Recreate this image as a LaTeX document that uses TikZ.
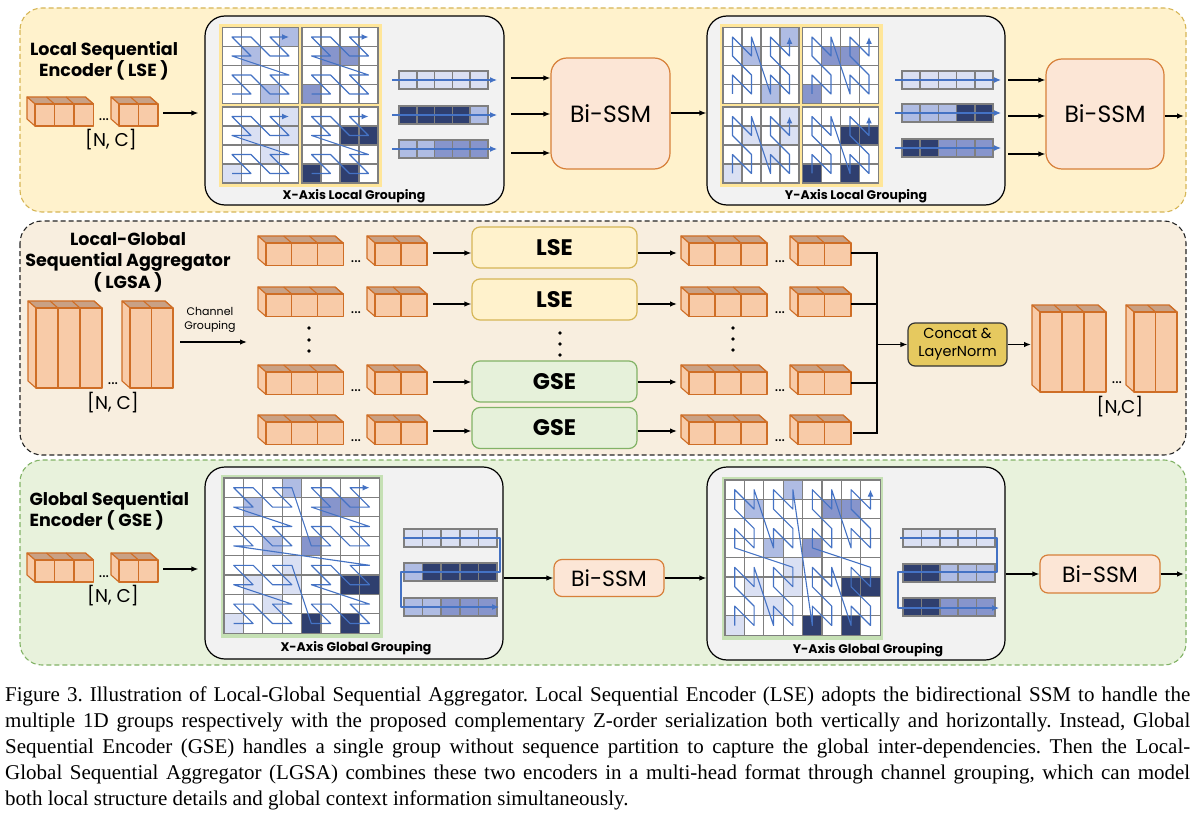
\documentclass[tikz,border=0pt]{standalone}
\usepackage{fontspec}
\setmainfont{Liberation Serif}
\newfontfamily\hf{Poppins}
\usetikzlibrary{arrows.meta,calc}
\frenchspacing
\definecolor{secYf}{HTML}{FFF2CC}
\definecolor{secYb}{HTML}{D6B656}
\definecolor{secMf}{HTML}{F8EEDF}
\definecolor{secGf}{HTML}{E8F2DC}
\definecolor{secGb}{HTML}{82B366}
\definecolor{grayf}{HTML}{F2F2F2}
\definecolor{ssmf}{HTML}{FCE6D6}
\definecolor{ssmb}{HTML}{D7803A}
\definecolor{lsef}{HTML}{FFF2CC}
\definecolor{gsef}{HTML}{E6F1DA}
\definecolor{catf}{HTML}{E6C95F}
\definecolor{tokF}{HTML}{F8CBA8}
\definecolor{tokT}{HTML}{C9A185}
\definecolor{tokB}{HTML}{CF6E26}
\definecolor{cV}{HTML}{DAE0F3}
\definecolor{cL}{HTML}{AFBCE3}
\definecolor{cM}{HTML}{8795CC}
\definecolor{cD}{HTML}{2F3F6F}
\definecolor{gline}{HTML}{7F7F7F}
\definecolor{yfr}{HTML}{FFE699}
\definecolor{gfr}{HTML}{C5E0B4}
\definecolor{zblue}{HTML}{4472C4}

\tikzset{
 arr/.style={draw=black, line width=1.3pt, -{Latex[length=7pt,width=5.5pt]}},
 bus/.style={draw=black, line width=1.6pt},
 zz/.style={draw=zblue, line width=1.1pt, -{Latex[length=7pt,width=6pt]}, line join=round},
 cellst/.style={draw=gline, line width=1.2pt, fill=white},
 barst/.style={draw=gline, line width=1.5pt},
 tokst/.style={draw=tokB, line width=1.1pt, line join=round},
 graybox/.style={draw=black, line width=1.2pt, fill=grayf, rounded corners=20pt},
 ssm/.style={draw=ssmb, line width=1.2pt, fill=ssmf, rounded corners=16pt, font=\hf\fontsize{23.5}{26}\selectfont},
 ssms/.style={draw=ssmb, line width=1.2pt, fill=ssmf, rounded corners=8pt, font=\hf\fontsize{22}{24}\selectfont},
 lsebox/.style={draw=secYb, line width=1.2pt, fill=lsef, rounded corners=8pt, minimum width=165pt, minimum height=41pt, font=\hf\bfseries\fontsize{22.5}{24}\selectfont},
 gsebox/.style={draw=secGb, line width=1.2pt, fill=gsef, rounded corners=8pt, minimum width=165pt, minimum height=41pt, font=\hf\bfseries\fontsize{22.5}{24}\selectfont},
 catbox/.style={draw=black!80, line width=1.2pt, fill=catf, rounded corners=7pt, minimum width=99pt, minimum height=43pt, align=center, font=\hf\fontsize{14.5}{18}\selectfont, inner sep=1pt},
 ttl/.style={font=\hf\bfseries\fontsize{17.5}{21.5}\selectfont},
 lab/.style={font=\hf\bfseries\fontsize{12.5}{14}\selectfont},
 nc/.style={font=\hf\fontsize{18.5}{22}\selectfont},
 dots/.style={font=\hf\fontsize{16}{16}\selectfont, inner sep=0pt},
 vdot/.style={fill=black, draw=none},
 secY/.style={draw=secYb, fill=secYf, line width=1.1pt, dash pattern=on 5pt off 3pt, rounded corners=22pt},
 secM/.style={draw=black!85, fill=secMf, line width=1.1pt, dash pattern=on 5pt off 3pt, rounded corners=22pt},
 secG/.style={draw=secGb, fill=secGf, line width=1.1pt, dash pattern=on 5pt off 3pt, rounded corners=22pt},
}

\def\tdx{8}
\def\tdy{7}
% token group: x of front-left, y of front-top, count, width, height
\newcommand\tokg[5]{%
 \pgfmathsetmacro\tkx{#1+#3*#4}%
 \filldraw[tokst, fill=tokT] (#1,#2) -- ++(-\tdx,-\tdy) -- ({\tkx-\tdx},{#2-\tdy}) -- (\tkx,#2) -- cycle;
 \filldraw[tokst, fill=tokF] (#1,#2) -- ++(-\tdx,-\tdy) -- ++(0,#5) -- (#1,{#2+#5}) -- cycle;
 \foreach \k in {1,...,#3}{%
   \filldraw[tokst, fill=tokF] ({#1+(\k-1)*#4},#2) rectangle ++(#4,#5);
   \draw[tokst] ({#1+\k*#4},#2) -- ++(-\tdx,-\tdy);}%
}
% 8x8 grid with shaded cells: x0, y0, cell, gap between 4x4 blocks
\newcommand\gridpanel[4]{%
 \foreach \cx in {0,...,7}{\foreach \cy in {0,...,7}{%
   \filldraw[cellst] ({#1+\cx*#3+(\cx>3)*#4},{#2+\cy*#3+(\cy>3)*#4}) rectangle ++(#3,#3);}}%
 \foreach \cx/\cy/\cc in {3/0/cL,1/1/cL,2/3/cL,5/1/cM,6/1/cM,4/3/cM,3/4/cV,1/5/cV,3/5/cV,2/6/cV,0/7/cV,6/5/cD,7/5/cD,4/7/cD,6/7/cD}{%
   \filldraw[cellst, fill=\cc] ({#1+\cx*#3+(\cx>3)*#4},{#2+\cy*#3+(\cy>3)*#4}) rectangle ++(#3,#3);}%
}
% Z-order path: x0, y0, cell, last index, col expr, row expr
\newcommand\zzpath[6]{%
 \begingroup
 \def\i{0}%
 \pgfmathsetmacro\zca{#5}\pgfmathsetmacro\zra{#6}%
 \draw[zz] ({#1+(\zca+0.5)*#3},{#2+(\zra+0.5)*#3})
   \foreach \i [evaluate=\i as \cc using {#5}, evaluate=\i as \rr using {#6}] in {1,...,#4} {-- ({#1+(\cc+0.5)*#3},{#2+(\rr+0.5)*#3})};
 \endgroup}
\newcommand\zxl[2]{\zzpath{#1}{#2}{19}{15}{mod(\i,2)+2*mod(floor(\i/4),2)}{3-mod(floor(\i/2),2)-2*mod(floor(\i/8),2)}}
\newcommand\zyl[2]{\zzpath{#1}{#2}{19}{15}{mod(floor(\i/2),2)+2*mod(floor(\i/8),2)}{3-mod(\i,2)-2*mod(floor(\i/4),2)}}
% sequence bar: x, y, cell width, colours
\newcommand\seqbar[4]{%
 \foreach \cc [count=\k from 0] in {#4}{%
   \filldraw[barst, fill=\cc] ({#1+\k*#3},#2) rectangle ++(#3,18);}%
}

\begin{document}
\begin{tikzpicture}[x=1pt,y=-1pt]
\fill[white] (0,0) rectangle (1194,813);
\useasboundingbox (0,0) rectangle (1194,813);

% ---------------- sections
\draw[secY] (20,8) rectangle (1186,212);
\draw[secM] (20,221) rectangle (1186,455);
\draw[secG] (20,460) rectangle (1186,665);

% ================= TOP: LSE
\node[ttl, align=center] (tLSE) at (104,61) {Local Sequential\\Encoder ( LSE )};
\tokg{35}{104}{3}{19.5}{22}
\tokg{119}{104}{2}{19.5}{22}
\node[dots, anchor=base] at (104,121) {...};
\node[nc] (ncA) at (111,140) {[N, C]};
\coordinate (tA) at (163,113);

\node[graybox, minimum width=299pt, minimum height=189pt] (gxl) at (354.5,110.5) {};
\node[graybox, minimum width=298pt, minimum height=189pt] (gyl) at (856,110.5) {};
\draw[arr, shorten >=6pt] (tA) -- (tA -| gxl.west);

% X local grid
\fill[yfr] (219,24) rectangle (382,187);
\gridpanel{222.5}{27.5}{19}{3.5}
\zxl{222.5}{27.5}\zxl{302}{27.5}\zxl{222.5}{107}\zxl{302}{107}
\seqbar{399}{71}{17.8}{cV,cV,cV,cV,cV}
\seqbar{399}{106}{17.8}{cD,cD,cD,cD,cL}
\seqbar{399}{140}{17.8}{cL,cL,cM,cM,cM}
\draw[zz] (392,80) -- (497,80);
\draw[zz] (392,115) -- (497,115);
\draw[zz] (392,149) -- (497,149);
\node[lab] (lxl) at (354,196) {X-Axis Local Grouping};

\node[ssm, minimum width=119pt, minimum height=111pt] (b1) at (610.5,113.5) {Bi-SSM};
\coordinate (s1) at (511,78);
\coordinate (s2) at (511,114);
\coordinate (s3) at (511,153);
\draw[arr] (s1) -- (s1 -| b1.west);
\draw[arr] (s2) -- (s2 -| b1.west);
\draw[arr] (s3) -- (s3 -| b1.west);
\coordinate (bo1) at (690,113);
\draw[arr] (bo1 -| b1.east) -- (bo1 -| gyl.west);

% Y local grid
\fill[yfr] (719.5,24) rectangle (883,187);
\gridpanel{723}{27.5}{19}{3.5}
\zyl{723}{27.5}\zyl{802.5}{27.5}\zyl{723}{107}\zyl{802.5}{107}
\seqbar{902}{71}{18.2}{cV,cV,cV,cV,cV}
\seqbar{902}{104}{18.2}{cL,cL,cL,cD,cD}
\seqbar{902}{139}{18.2}{cD,cD,cM,cM,cM}
\draw[zz] (895,80) -- (1001,80);
\draw[zz] (895,113) -- (1001,113);
\draw[zz] (895,148) -- (1001,148);
\node[lab] (lyl) at (856,196) {Y-Axis Local Grouping};

\node[ssm, minimum width=118pt, minimum height=110pt] (b2) at (1105,114) {Bi-SSM};
\coordinate (u1) at (1008,80);
\coordinate (u2) at (1008,116);
\coordinate (u3) at (1008,154);
\draw[arr] (u1) -- (u1 -| b2.west);
\draw[arr] (u2) -- (u2 -| b2.west);
\draw[arr] (u3) -- (u3 -| b2.west);
\coordinate (outA) at (1184,116);
\draw[arr] (b2.east |- outA) -- (outA);

% ================= MIDDLE: LGSA
\node[ttl, align=center] (tLGSA) at (128,262) {Local-Global\\Sequential Aggregator\\( LGSA )};
\tokg{36}{308}{3}{22}{80}
\tokg{130}{308}{2}{21.5}{80}
\node[dots, anchor=base] at (113,384) {...};
\node[nc] (ncB) at (113,403) {[N, C]};
\node[font=\hf\fontsize{11}{14}\selectfont, align=center] (cg) at (210,320) {Channel\\Grouping};
\coordinate (cgs) at (180,342);
\coordinate (cge) at (247,342);
\draw[arr] (cgs) -- (cge);

\foreach \r in {243,294,372,422}{
  \tokg{266}{\r}{3}{25.7}{22.5}
  \tokg{375}{\r}{2}{26}{22.5}
  \node[dots, anchor=base] at (356,\r+19) {...};
  \tokg{689}{\r}{3}{26}{22.5}
  \tokg{798}{\r}{2}{26.5}{22.5}
  \node[dots, anchor=base] at (780,\r+19) {...};
}
\foreach \yy in {328,340,351}{\fill[vdot] (309,\yy) circle (1.8);}
\foreach \yy in {333,344,355}{\fill[vdot] (560,\yy) circle (1.8);}
\foreach \yy in {328,339,350}{\fill[vdot] (733,\yy) circle (1.8);}

\node[lsebox] (l1) at (554.5,247.5) {LSE};
\node[lsebox] (l2) at (554.5,299.5) {LSE};
\node[gsebox] (g1) at (554.5,381.5) {GSE};
\node[gsebox] (g2) at (554.5,428) {GSE};
\coordinate (p1) at (433,253);
\coordinate (p2) at (433,304);
\coordinate (p3) at (433,382);
\coordinate (p4) at (433,431);
\draw[arr] (p1) -- (p1 -| l1.west);
\draw[arr] (p2) -- (p2 -| l2.west);
\draw[arr] (p3) -- (p3 -| g1.west);
\draw[arr] (p4) -- (p4 -| g2.west);
\coordinate (q1) at (677,253);
\coordinate (q2) at (677,304);
\coordinate (q3) at (677,382);
\coordinate (q4) at (677,431);
\draw[arr] (q1 -| l1.east) -- (q1);
\draw[arr] (q2 -| l2.east) -- (q2);
\draw[arr] (q3 -| g1.east) -- (q3);
\draw[arr] (q4 -| g2.east) -- (q4);

\coordinate (m1) at (851,253);
\coordinate (m2) at (851,304);
\coordinate (m3) at (851,383);
\coordinate (m4) at (853,433);
\coordinate (bt) at (877,253);
\coordinate (bb) at (877,433);
\draw[bus] (m1) -- (bt) -- (bb) -- (m4);
\draw[bus] (m2) -- (m2 -| bt);
\draw[bus] (m3) -- (m3 -| bt);
\node[catbox] (cat) at (957.5,344.5) {Concat \&\\LayerNorm};
\coordinate (bm) at (877,344.5);
\draw[arr] (bm) -- (cat.west);
\coordinate (ce) at (1031,344.5);
\draw[arr] (cat.east) -- (ce);
\tokg{1040}{312}{3}{22}{80}
\tokg{1134}{312}{2}{21.5}{80}
\node[dots, anchor=base] at (1117,383) {...};
\node[nc] (ncC) at (1120,407) {[N,C]};

% ================= BOTTOM: GSE
\node[ttl, align=left, anchor=west] (tGSE) at (26,511) {Global Sequential\\Encoder ( GSE )};
\tokg{35}{560}{3}{19.5}{22}
\tokg{119}{560}{2}{19.5}{22}
\node[dots, anchor=base] at (104,577) {...};
\node[nc] (ncD) at (113,596) {[N, C]};
\coordinate (tD) at (163,569);

\node[graybox, minimum width=298pt, minimum height=192pt] (gxg) at (354,563) {};
\node[graybox, minimum width=298pt, minimum height=193pt] (gyg) at (856,563.5) {};
\draw[arr, shorten >=6pt] (tD) -- (tD -| gxg.west);

\fill[gfr] (221,475) rectangle (383,638);
\gridpanel{224}{478}{19.4}{0}
\zzpath{224}{478}{19.4}{63}{mod(\i,2)+2*mod(floor(\i/4),2)+4*mod(floor(\i/16),2)}{7-mod(floor(\i/2),2)-2*mod(floor(\i/8),2)-4*mod(floor(\i/32),2)}
\seqbar{404}{529}{18.6}{cV,cV,cV,cV,cV}
\seqbar{404}{563}{18.6}{cL,cD,cD,cD,cD}
\seqbar{404}{598}{18.6}{cL,cL,cM,cM,cM}
\draw[zz] (403,538) -- (500,538) -- (500,572) -- (401,572) -- (401,607) -- (499,607);
\node[lab] (lxg) at (356,648) {X-Axis Global Grouping};

\node[ssms, minimum width=110pt, minimum height=37pt] (b3) at (609,578) {Bi-SSM};
\draw[arr] (gxg.east |- b3) -- (b3.west);
\draw[arr] (b3.east) -- (b3.east -| gyg.west);

\fill[gfr] (722,477) rectangle (883,640);
\gridpanel{725}{480}{19.4}{0}
\zzpath{725}{480}{19.4}{63}{mod(floor(\i/2),2)+2*mod(floor(\i/8),2)+4*mod(floor(\i/32),2)}{7-mod(\i,2)-2*mod(floor(\i/4),2)-4*mod(floor(\i/16),2)}
\seqbar{903}{529}{18.4}{cV,cV,cV,cV,cV}
\seqbar{903}{564}{18.4}{cD,cD,cL,cL,cL}
\seqbar{903}{598}{18.4}{cD,cD,cM,cM,cM}
\draw[zz] (900,538) -- (997,538) -- (997,572) -- (898,572) -- (898,608) -- (999,608);
\node[lab] (lyg) at (868,650) {Y-Axis Global Grouping};

\node[ssms, minimum width=120pt, minimum height=38pt] (b4) at (1100,574) {Bi-SSM};
\draw[arr] (gyg.east |- b4) -- (b4.west);
\coordinate (outD) at (1184,574);
\draw[arr] (b4.east) -- (outD);

% ================= caption
\node[anchor=north west, inner sep=0pt, align=left, font=\fontsize{21}{26}\selectfont] (cap) at (5,686.5) {%
\makebox[1185pt][s]{Figure 3. Illustration of Local-Global Sequential Aggregator. Local Sequential Encoder (LSE) adopts the bidirectional SSM to handle the}\\
\makebox[1185pt][s]{multiple 1D groups respectively with the proposed complementary Z-order serialization both vertically and horizontally. Instead, Global}\\
\makebox[1185pt][s]{Sequential Encoder (GSE) handles a single group without sequence partition to capture the global inter-dependencies. Then the Local-}\\
\makebox[1185pt][s]{Global Sequential Aggregator (LGSA) combines these two encoders in a multi-head format through channel grouping, which can model}\\
both local structure details and global context information simultaneously.};
\end{tikzpicture}
\end{document}
